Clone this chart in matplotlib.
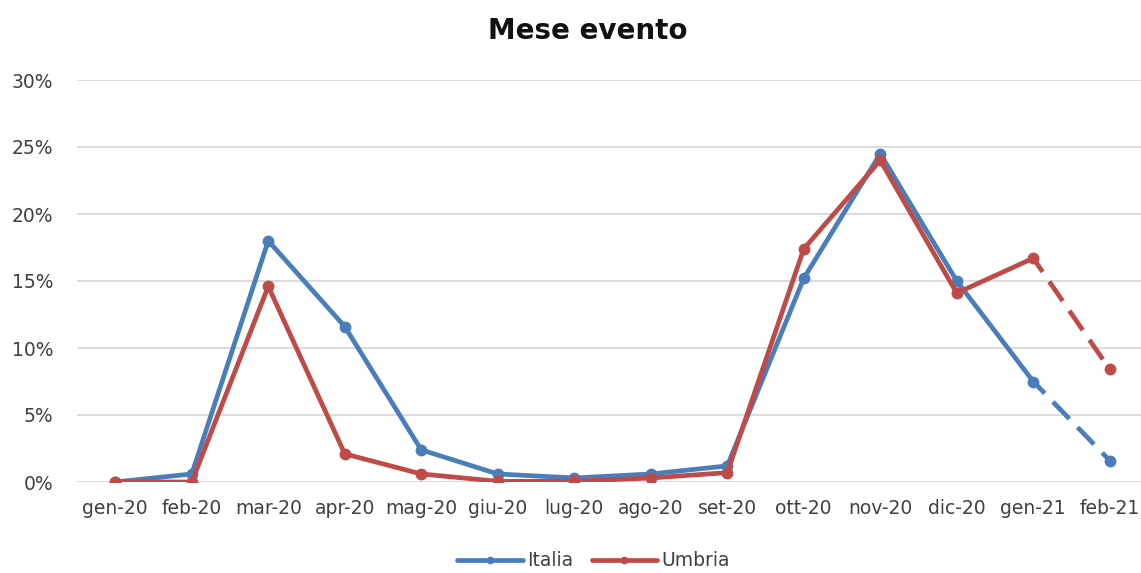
import matplotlib
matplotlib.use('agg')
from matplotlib import pyplot as plt
from matplotlib.ticker import FuncFormatter

months = ['gen-20', 'feb-20', 'mar-20', 'apr-20', 'mag-20', 'giu-20', 'lug-20',
          'ago-20', 'set-20', 'ott-20', 'nov-20', 'dic-20', 'gen-21', 'feb-21']
italia = [0.0, 0.6, 18.0, 11.6, 2.4, 0.6, 0.3, 0.6, 1.2, 15.2, 24.5, 15.0, 7.5, 1.6]
umbria = [0.0, 0.0, 14.6, 2.1, 0.6, 0.05, 0.05, 0.3, 0.7, 17.4, 24.0, 14.1, 16.7, 8.4]

BLUE = '#4A7EBB'
RED = '#BE4B48'
TEXT = '#404040'

fig = plt.figure(figsize=(11.41, 5.73), dpi=100)
ax = fig.add_axes([77 / 1141, 91 / 573, 1071 / 1141, 402 / 573])

x = list(range(len(months)))
n = len(months) - 1
for vals, color, name in [(italia, BLUE, 'Italia'), (umbria, RED, 'Umbria')]:
    ax.plot(x[:n], vals[:n], color=color, lw=3.4, marker='o', ms=7.5,
            solid_capstyle='round', label=name, zorder=3)
    ax.plot(x[n - 1:], vals[n - 1:], color=color, lw=3.4, ls=(1.5, (5, 2.5)),
            marker='o', ms=7.5, markevery=[1], zorder=3)

ax.set_xlim(-0.5, len(months) - 0.5)
ax.set_ylim(0, 30)
ax.set_yticks(range(0, 31, 5))
ax.yaxis.set_major_formatter(FuncFormatter(lambda v, p: '{:d}%'.format(int(v))))
ax.set_xticks(x)
ax.set_xticklabels(months)
ax.grid(axis='y', color='#D9D9D9', lw=1.3)
ax.set_axisbelow(True)
for s in ax.spines.values():
    s.set_visible(False)
ax.tick_params(length=0, labelsize=13.5, colors=TEXT)
ax.tick_params(axis='y', pad=17)
ax.tick_params(axis='x', pad=12)

fig.text(0.515, 1 - 31 / 573, 'Mese evento', ha='center', va='center',
         fontsize=20, fontweight='bold', color='#111111')

leg = fig.legend(loc='center', bbox_to_anchor=(0.52, 1 - 561 / 573), ncol=2,
                 frameon=False, fontsize=13.5, handlelength=3.5, columnspacing=1.0,
                 handletextpad=0.2, markerscale=0.6, borderpad=0.2)
for t in leg.get_texts():
    t.set_color(TEXT)

fig.savefig('out.png', dpi=100)
